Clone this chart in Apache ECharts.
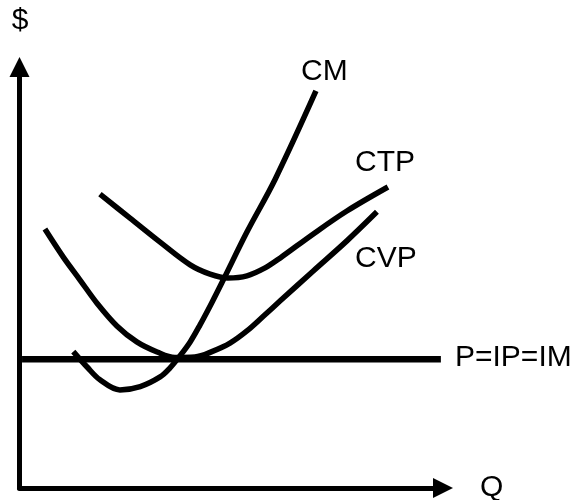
<!DOCTYPE html>
<html>
<head>
<meta charset="utf-8">
<script src="https://cdn.jsdelivr.net/npm/echarts@6/dist/echarts.min.js"></script>
<style>
html,body{margin:0;padding:0;background:#fff;}
#chart{width:577px;height:500px;}
</style>
</head>
<body>
<div id="chart"></div>
<script>
// Values (Q on x, $ on y, both on 0..100 scale)
var cmQ   = [12.7, 15.9, 19.0, 23.7, 28.5, 33.2, 35.5, 37.9, 40.3, 42.6, 45.5, 48.1, 53.7, 60.4, 70.0];
var cmV   = [32.4, 28.8, 25.7, 23.3, 24.1, 26.4, 28.5, 31.4, 34.7, 38.7, 44.2, 49.4, 60.8, 73.4, 94.3];

var ctpQ  = [19.0, 26.1, 33.2, 40.3, 45.0, 49.2, 53.7, 58.0, 61.5, 69.3, 77.3, 87.0];
var ctpV  = [69.8, 64.1, 58.4, 53.0, 50.8, 49.9, 50.4, 52.3, 54.6, 60.3, 65.8, 71.5];

var cvpQ  = [6.0, 10.3, 14.3, 18.3, 23.0, 27.7, 32.5, 36.7, 41.4, 45.7, 49.7, 53.7, 57.7, 61.5, 69.3, 77.3, 84.4];
var cvpV  = [61.5, 54.9, 49.4, 43.9, 38.5, 34.7, 32.3, 31.0, 31.1, 32.5, 34.4, 37.3, 40.9, 44.4, 51.5, 58.7, 65.6];

var priceQ = [0.6, 99.5];
var priceV = [30.6, 30.6];

var labels = { cm: 'CM', ctp: 'CTP', cvp: 'CVP', price: 'P=IP=IM', yAxis: '$', xAxis: 'Q' };

function pairs(xs, ys) { return xs.map(function (x, i) { return [x, ys[i]]; }); }

var chart = echarts.init(document.getElementById('chart'), null, { renderer: 'canvas' });
var font = '"Liberation Sans", Arial, sans-serif';
function curve(name, xs, ys, w, smooth) {
  return {
    name: name, type: 'line', data: pairs(xs, ys), smooth: smooth,
    showSymbol: false, symbol: 'none', silent: true,
    lineStyle: { color: '#000', width: w, cap: 'butt', join: 'round' }
  };
}
function txt(t, x, y, align) {
  return { type: 'text', x: x, y: y, style: { text: t, font: '30px ' + font, fill: '#000', align: align || 'left', verticalAlign: 'middle' } };
}
chart.setOption({
  animation: false,
  backgroundColor: '#fff',
  grid: { left: 19.5, right: 134, top: 67, bottom: 12 },
  xAxis: {
    type: 'value', min: 0, max: 100,
    axisLine: { show: true, symbol: ['none', 'triangle'], symbolSize: [20, 20], lineStyle: { color: '#000', width: 5 } },
    axisTick: { show: false }, axisLabel: { show: false }, splitLine: { show: false }
  },
  yAxis: {
    type: 'value', min: 0, max: 100,
    axisLine: { show: true, symbol: ['none', 'triangle'], symbolSize: [20, 20], lineStyle: { color: '#000', width: 5 } },
    axisTick: { show: false }, axisLabel: { show: false }, splitLine: { show: false }
  },
  series: [
    curve('price', priceQ, priceV, 6.5, false),
    curve('cvp', cvpQ, cvpV, 5.5, 0.35),
    curve('ctp', ctpQ, ctpV, 5.5, 0.35),
    curve('cm', cmQ, cmV, 5.5, 0.35)
  ],
  graphic: [
    txt(labels.yAxis, 20, 21, 'center'),
    txt(labels.xAxis, 480, 487.5),
    txt(labels.cm, 301, 71.5),
    txt(labels.ctp, 355, 163),
    txt(labels.cvp, 355, 258.5),
    txt(labels.price, 455, 358)
  ]
});
</script>
</body>
</html>
